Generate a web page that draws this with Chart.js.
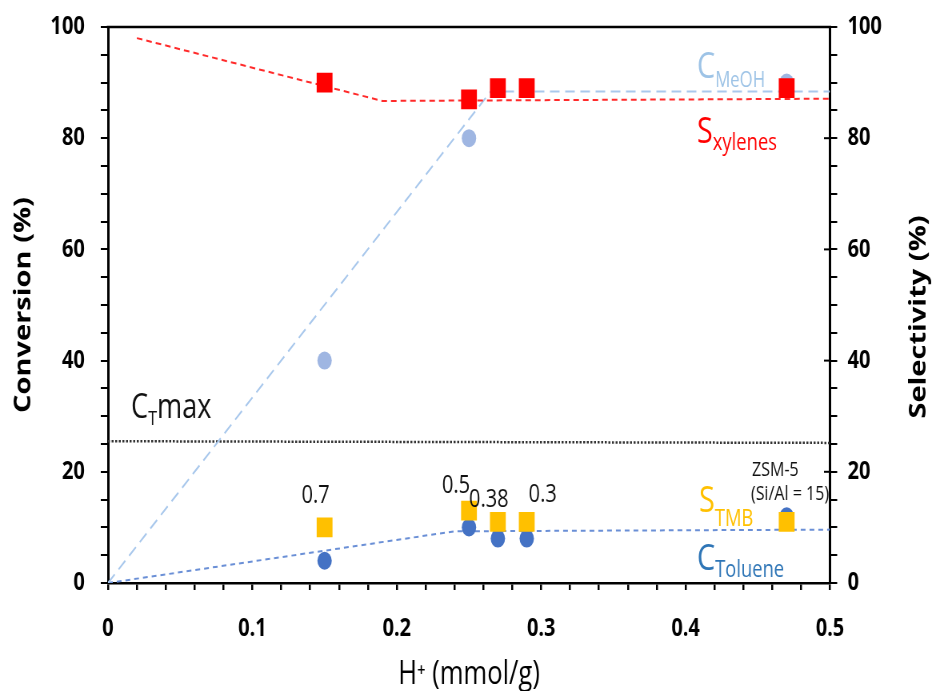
<!DOCTYPE html>
<html>
<head>
<meta charset="utf-8">
<title>Conversion and selectivity vs H+</title>
<script src="https://cdn.jsdelivr.net/npm/chart.js@4.4.1/dist/chart.umd.min.js"></script>
<style>
  html, body { margin: 0; padding: 0; background: #fff; }
  canvas { display: block; }
</style>
</head>
<body>
<!-- the original figure is squeezed horizontally, so draw wide and scale down -->
<canvas id="chart" width="1165" height="691" style="width:932px;height:691px"></canvas>
<script>
// acid site density H+ (mmol/g)
const acidSites = [0.15, 0.25, 0.27, 0.29, 0.47];
// conversion (%), left axis
const methanolSites = [0.15, 0.25, 0.47];
const methanolConv = [40, 80, 90];
const tolueneConv = [4, 10, 8, 8, 12];
// selectivity (%), right axis
const xyleneSel = [90, 87, 89, 89, 89];
const tmbSel = [10, 13, 11, 11, 11];
// labels written above the TMB points
const pointLabels = ['0.7', '0.5', '0.38', '0.3'];

// dashed guide lines
const xyleneTrendX = [0.02, 0.19, 0.5];
const xyleneTrendY = [98, 86.7, 87.1];
const methanolTrendX = [0, 0.265, 0.5];
const methanolTrendY = [0, 88.4, 88.4];
const tolueneTrendX = [0, 0.24, 0.5];
const tolueneTrendY = [0, 9.3, 9.6];
const ctMaxX = [0, 0.5];
const ctMaxY = [25.5, 25.2];

const xTickLabels = ['0', '0.1', '0.2', '0.3', '0.4', '0.5'];
const yTickLabels = ['0', '20', '40', '60', '80', '100'];

const SQ = 0.8; // horizontal squeeze of the displayed canvas
const X = v => v / SQ;
const FONT = "'Open Sans', 'DejaVu Sans', sans-serif";

const toPoints = (xs, ys) => xs.map((x, i) => ({ x, y: ys[i] }));

const guide = (xs, ys, color, dash, axis, width = 2) => ({
  data: toPoints(xs, ys),
  yAxisID: axis,
  showLine: true,
  pointRadius: 0,
  borderColor: color,
  borderWidth: width,
  borderDash: dash,
  fill: false,
  order: 3
});

// fixed plot box: no extra room for overhanging tick labels
const fixBox = (w, h) => s => {
  if (w !== null) s.width = w;
  if (h !== null) s.height = h;
  s.paddingTop = 0;
  s.paddingBottom = 0;
  s.paddingLeft = 0;
  s.paddingRight = 0;
};

// draw "C" + subscript style labels
function subLabel(ctx, main, sub, x, y, size, subSize, subDy, color, tail) {
  ctx.fillStyle = color;
  ctx.textAlign = 'left';
  ctx.textBaseline = 'alphabetic';
  ctx.font = `${size}px ${FONT}`;
  ctx.fillText(main, X(x), y);
  let cx = X(x) + ctx.measureText(main).width;
  ctx.font = `${subSize}px ${FONT}`;
  ctx.fillText(sub, cx, y + subDy);
  cx += ctx.measureText(sub).width;
  if (tail) {
    ctx.font = `${size}px ${FONT}`;
    ctx.fillText(tail, cx, y);
  }
}

const extras = {
  id: 'extras',
  afterDraw(chart) {
    const { ctx, chartArea: a, scales } = chart;
    ctx.save();

    // top frame line
    ctx.strokeStyle = '#000';
    ctx.lineWidth = 2.5;
    ctx.beginPath();
    ctx.moveTo(a.left - 1.5, a.top);
    ctx.lineTo(a.right + 1.5, a.top);
    ctx.stroke();

    // right axis: major ticks also poke inside
    ctx.lineWidth = 2;
    [0, 20, 40, 60, 80, 100].forEach(v => {
      const py = scales.y2.getPixelForValue(v);
      ctx.beginPath();
      ctx.moveTo(a.right - X(6), py);
      ctx.lineTo(a.right, py);
      ctx.stroke();
    });

    // right axis title, reading bottom to top like the left one
    ctx.save();
    ctx.translate(X(919), (a.top + a.bottom) / 2 + 12);
    ctx.rotate(-Math.PI / 2);
    ctx.fillStyle = '#000';
    ctx.font = `bold 29px ${FONT}`;
    ctx.textAlign = 'center';
    ctx.textBaseline = 'middle';
    ctx.fillText('Selectivity (%)', 0, 0);
    ctx.restore();

    // numbers above the TMB squares
    const offsets = [[-9, -32], [-13, -25], [-9, -22], [16, -27]];
    ctx.fillStyle = '#111';
    ctx.font = `25px ${FONT}`;
    ctx.textAlign = 'center';
    ctx.textBaseline = 'middle';
    pointLabels.forEach((t, i) => {
      const px = scales.x.getPixelForValue(acidSites[i]);
      const py = scales.y2.getPixelForValue(tmbSel[i]);
      ctx.fillText(t, px + X(offsets[i][0]), py + offsets[i][1]);
    });

    // ZSM-5 note
    ctx.textAlign = 'left';
    ctx.font = `20px ${FONT}`;
    ctx.fillText('ZSM-5', X(752), 470);
    ctx.fillText('(Si/Al = 15)', X(751), 494);

    // series names
    subLabel(ctx, 'C', 'MeOH', 697, 78, 36, 21, 9, '#9dc3e6');
    subLabel(ctx, 'S', 'xylenes', 697, 143, 36, 23, 7, '#ff0000');
    subLabel(ctx, 'S', 'TMB', 699, 512, 36, 23, 14, '#ffc000');
    subLabel(ctx, 'C', 'Toluene', 697, 570, 36, 23, 7, '#2e75b6');
    subLabel(ctx, 'C', 'T', 131, 418, 34, 20, 7, '#111', 'max');

    ctx.restore();
  }
};

const ctx = document.getElementById('chart').getContext('2d');
new Chart(ctx, {
  type: 'scatter',
  data: {
    datasets: [
      {
        label: 'S TMB',
        data: toPoints(acidSites, tmbSel),
        yAxisID: 'y2',
        pointStyle: 'rect',
        pointRadius: 14,
        backgroundColor: '#ffc000',
        borderWidth: 0,
        order: 1
      },
      {
        label: 'S xylenes',
        data: toPoints(acidSites, xyleneSel),
        yAxisID: 'y2',
        pointStyle: 'rect',
        pointRadius: 14,
        backgroundColor: '#ff0000',
        borderWidth: 0,
        order: 1
      },
      {
        label: 'C toluene',
        data: toPoints(acidSites, tolueneConv),
        yAxisID: 'y',
        pointStyle: 'circle',
        pointRadius: 9,
        backgroundColor: '#4472c4',
        borderWidth: 0,
        order: 2
      },
      {
        label: 'C MeOH',
        data: toPoints(methanolSites, methanolConv),
        yAxisID: 'y',
        pointStyle: 'circle',
        pointRadius: 9,
        backgroundColor: '#9fb6e2',
        borderWidth: 0,
        order: 2
      },
      guide(xyleneTrendX, xyleneTrendY, '#ff2a2a', [7, 5], 'y2'),
      guide(methanolTrendX, methanolTrendY, '#a9c8ec', [12, 7], 'y'),
      guide(tolueneTrendX, tolueneTrendY, '#6a8fd6', [6, 5], 'y'),
      guide(ctMaxX, ctMaxY, '#333', [2.5, 2], 'y', 2.5)
    ]
  },
  options: {
    responsive: false,
    animation: false,
    devicePixelRatio: 1,
    layout: { padding: { top: 27, left: 0, right: 0, bottom: 0 } },
    plugins: { legend: { display: false }, tooltip: { enabled: false } },
    scales: {
      x: {
        type: 'linear',
        position: 'bottom',
        min: 0,
        max: 0.5,
        afterFit: fixBox(null, 108),
        border: { color: '#000', width: 2.5 },
        grid: { drawOnChartArea: false, drawTicks: true, tickLength: 7, color: '#000', lineWidth: 2.5 },
        ticks: {
          stepSize: 0.02,
          maxTicksLimit: 100,
          autoSkip: false,
          maxRotation: 0,
          padding: 24,
          color: '#000',
          font: { family: FONT, size: 25, weight: 'bold' },
          callback: v => {
            const k = Math.round(v * 10);
            return Math.abs(v * 10 - k) < 1e-6 ? xTickLabels[k] : '';
          }
        },
        title: {
          display: true,
          text: 'H\u207A (mmol/g)',
          color: '#000',
          font: { family: FONT, size: 32, lineHeight: 1 },
          padding: { top: 0, bottom: 0 }
        }
      },
      y: {
        position: 'left',
        min: 0,
        max: 100,
        afterFit: fixBox(135, null),
        border: { color: '#000', width: 3 },
        grid: { drawOnChartArea: false, drawTicks: true, tickLength: 9, color: '#000', lineWidth: 2 },
        ticks: {
          stepSize: 5,
          maxTicksLimit: 100,
          autoSkip: false,
          padding: 20,
          color: '#000',
          font: { family: FONT, size: 25, weight: 'bold' },
          callback: v => (v % 20 === 0 ? yTickLabels[v / 20] : '')
        },
        title: {
          display: true,
          text: 'Conversion (%)',
          color: '#000',
          font: { family: FONT, size: 29, weight: 'bold', lineHeight: 1 },
          padding: { top: 15, bottom: 0 }
        }
      },
      y2: {
        position: 'right',
        min: 0,
        max: 100,
        afterFit: fixBox(127.5, null),
        border: { color: '#000', width: 3 },
        grid: { drawOnChartArea: false, drawTicks: true, tickLength: 9, color: '#000', lineWidth: 2 },
        ticks: {
          stepSize: 5,
          maxTicksLimit: 100,
          autoSkip: false,
          padding: 13,
          color: '#000',
          font: { family: FONT, size: 25, weight: 'bold' },
          callback: v => (v % 20 === 0 ? yTickLabels[v / 20] : '')
        },
        title: { display: false }
      }
    }
  },
  plugins: [extras]
});
</script>
</body>
</html>
